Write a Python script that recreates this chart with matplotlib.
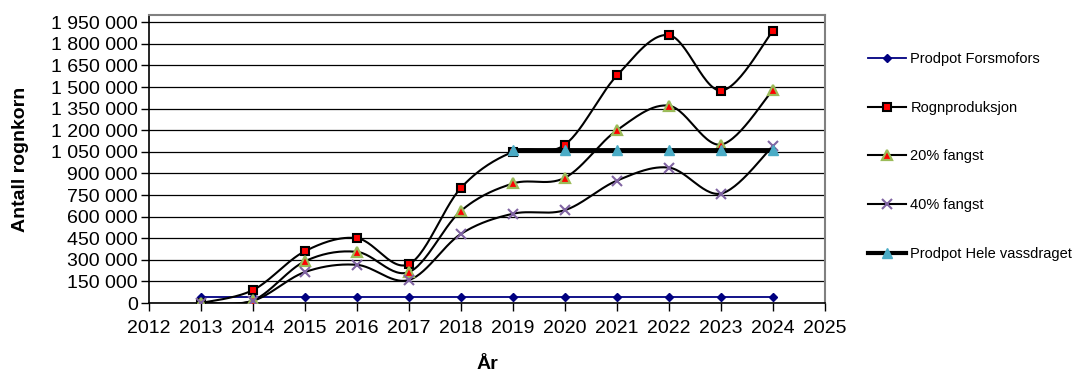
#!/usr/bin/env python3
"""
Rognproduksjon vs. produksjonspotensial, 2013-2024.
Excel-style smoothed lines (Catmull-Rom through the data points).
"""

import numpy as np
import matplotlib
matplotlib.use("Agg")
import matplotlib.pyplot as plt
from matplotlib.lines import Line2D
from matplotlib.ticker import FixedLocator, FuncFormatter

plt.rcParams['font.family'] = ['Liberation Sans', 'DejaVu Sans']

years = [2013, 2014, 2015, 2016, 2017, 2018, 2019, 2020, 2021, 2022, 2023, 2024]
prodpot_forsmofors = [40000] * 12
rognproduksjon = [0, 90000, 360000, 450000, 270000, 800000, 1050000,
                  1100000, 1580000, 1860000, 1475000, 1890000]
fangst_20 = [0, 18000, 290000, 355000, 215000, 640000, 830000,
             870000, 1200000, 1370000, 1100000, 1480000]
fangst_40 = [0, 15000, 215000, 265000, 160000, 480000, 620000,
             645000, 850000, 940000, 760000, 1090000]
hele_years = [2019, 2020, 2021, 2022, 2023, 2024]
prodpot_hele = [1060000] * 6

y_ticks = list(range(0, 1950001, 150000))
x_ticks = list(range(2012, 2026))


def smooth(x, y, n=30):
    # Excel "smoothed line": Bezier with control points at 1/6 of neighbour diff
    x = np.asarray(x, float)
    y = np.asarray(y, float)
    px = np.concatenate([[x[0]], x, [x[-1]]])
    py = np.concatenate([[y[0]], y, [y[-1]]])
    t = np.linspace(0, 1, n)[:, None]
    xs, ys = [], []
    for i in range(1, len(px) - 2):
        p0 = np.array([px[i], py[i]])
        p3 = np.array([px[i + 1], py[i + 1]])
        c1 = p0 + (np.array([px[i + 1], py[i + 1]]) - np.array([px[i - 1], py[i - 1]])) / 6
        c2 = p3 - (np.array([px[i + 2], py[i + 2]]) - np.array([px[i], py[i]])) / 6
        b = ((1 - t) ** 3) * p0 + 3 * ((1 - t) ** 2) * t * c1 + 3 * (1 - t) * t ** 2 * c2 + t ** 3 * p3
        xs.append(b[:, 0])
        ys.append(b[:, 1])
    return np.concatenate(xs), np.concatenate(ys)


fig = plt.figure(figsize=(10.76, 3.72), dpi=100)
ax = fig.add_axes([149 / 1076, 1 - 303 / 372, (825 - 149) / 1076, (303 - 15) / 372])

ax.set_xlim(2012, 2025)
ax.set_ylim(0, 2000000)
ax.yaxis.set_major_locator(FixedLocator(y_ticks))
ax.xaxis.set_major_locator(FixedLocator(x_ticks))
ax.yaxis.set_major_formatter(FuncFormatter(lambda v, p: f"{int(v):,}".replace(",", " ")))
ax.grid(axis='y', color='black', linewidth=0.9)
ax.set_axisbelow(True)
ax.tick_params(axis='both', direction='out', length=6, width=1, labelsize=14)
ax.tick_params(axis='x', pad=6)
ax.tick_params(axis='y', pad=2)

for side in ('top', 'right'):
    ax.spines[side].set_color('#808080')
    ax.spines[side].set_linewidth(1.5)
for side in ('left', 'bottom'):
    ax.spines[side].set_linewidth(1.2)

# Prodpot Forsmofors
ax.plot(years, prodpot_forsmofors, color='#000080', linewidth=1.3,
        marker='D', markersize=4, markerfacecolor='#000080', markeredgecolor='#000080', zorder=3)

# smoothed series
sx, sy = smooth(years, rognproduksjon)
ax.plot(sx, sy, color='black', linewidth=1.5, zorder=3)
ax.plot(years, rognproduksjon, linestyle='none', marker='s', markersize=6,
        markerfacecolor='#ff0000', markeredgecolor='black', markeredgewidth=1.5, zorder=4)

sx, sy = smooth(years, fangst_20)
ax.plot(sx, sy, color='black', linewidth=1.5, zorder=3)
ax.plot(years, fangst_20, linestyle='none', marker='^', markersize=6.5,
        markerfacecolor='#ff0000', markeredgecolor='#9bbb59', markeredgewidth=1.6, zorder=4)

sx, sy = smooth(years, fangst_40)
ax.plot(sx, sy, color='black', linewidth=1.5, zorder=3)
ax.plot(years, fangst_40, linestyle='none', marker='x', markersize=6.5,
        markeredgecolor='#8064a2', markeredgewidth=1.5, zorder=4)

# Prodpot Hele vassdraget
ax.plot(hele_years, prodpot_hele, color='black', linewidth=3.5, zorder=5)
ax.plot(hele_years, prodpot_hele, linestyle='none', marker='^', markersize=6.5,
        markerfacecolor='#4bacc6', markeredgecolor='#4bacc6', zorder=6)

ax.set_ylabel("Antall rognkorn", fontsize=14, fontweight='bold', labelpad=16)
ax.set_xlabel("År", fontsize=14, fontweight='bold', labelpad=14)

handles = [
    Line2D([], [], color='#000080', linewidth=1.3, marker='D', markersize=4),
    Line2D([], [], color='black', linewidth=1.5, marker='s', markersize=6,
           markerfacecolor='#ff0000', markeredgecolor='black', markeredgewidth=1.5),
    Line2D([], [], color='black', linewidth=1.5, marker='^', markersize=6.5,
           markerfacecolor='#ff0000', markeredgecolor='#9bbb59', markeredgewidth=1.6),
    Line2D([], [], color='black', linewidth=1.5, marker='x', markersize=6.5,
           markeredgecolor='#8064a2', markeredgewidth=1.5),
    Line2D([], [], color='black', linewidth=3, marker='^', markersize=6.5,
           markerfacecolor='#4bacc6', markeredgecolor='#4bacc6'),
]
labels = ["Prodpot Forsmofors", "Rognproduksjon", "20% fangst", "40% fangst",
          "Prodpot Hele vassdraget"]
fig.legend(handles, labels, loc='upper left', bbox_to_anchor=(868 / 1076, 1 - 52 / 372),
           frameon=False, fontsize=10.5, handlelength=2.6, handletextpad=0.3,
           labelspacing=2.38, borderpad=0, borderaxespad=0)

fig.savefig("out.png", dpi=100)
